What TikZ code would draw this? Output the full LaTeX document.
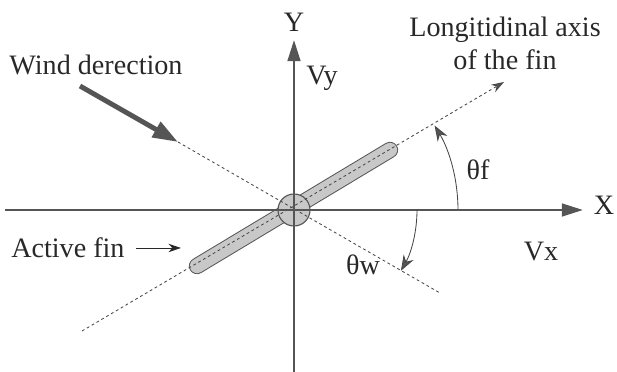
\documentclass[tikz,border=0pt]{standalone}
\usepackage{fontspec}
\setmainfont{Liberation Serif}
\usetikzlibrary{arrows.meta,calc}
\definecolor{axisgray}{RGB}{85,85,85}
\definecolor{textgray}{RGB}{40,40,40}
\definecolor{fingray}{RGB}{200,200,200}
\definecolor{linegray}{RGB}{70,70,70}
\tikzset{
  lbl/.style={inner sep=0pt, text=textgray, font=\fontsize{20}{23.5}\selectfont},
  axisline/.style={draw=axisgray, line width=1.8pt, -{Triangle[length=15pt,width=9pt]}},
  dotline/.style={draw=linegray, line width=0.6pt, dash pattern=on 2pt off 2pt},
  anglearc/.style={draw=linegray, line width=0.6pt, -{Stealth[length=11pt,width=8pt,fill=axisgray]}},
}
\begin{document}
\begin{tikzpicture}[x=0.025cm,y=0.025cm]
\useasboundingbox (0,0) rectangle (617,372);
% coordinates
\coordinate (O) at (294,162);
\coordinate (Xs) at (5,162);
\coordinate (Xe) at (583,162);
\coordinate (Ys) at (294,0);
\coordinate (Ye) at (294,332);
\coordinate (A) at (82,41);
\coordinate (B) at (504,290);
\coordinate (F1) at (197,106);
\coordinate (F2) at (390,222);
\coordinate (W1) at (178,230);
\coordinate (W2) at (440,79);
\coordinate (W0) at (80,286);
\coordinate (AF) at (181,124);
% fin
\draw[line width=11.6pt, color=axisgray, line cap=round] (F1) -- (F2);
\draw[line width=10.2pt, color=fingray, line cap=round] (F1) -- (F2);
% hub circle
\node[circle, draw=axisgray, fill=fingray, line width=0.8pt, minimum size=32*0.025cm, inner sep=0pt] (hub) at (O) {};
% dotted lines
\draw[dotline, -{Stealth[length=9pt,width=6pt,fill=axisgray]}] (A) -- (B);
\draw[dotline] (W1) -- (W2);
% axes
\draw[axisline] (Xs) -- (Xe);
\draw[axisline] (Ys) -- (Ye);
% wind arrow
\draw[draw=axisgray, line width=3.5pt, -{Triangle[length=18pt,width=12pt]}] (W0) -- (W1);
% angle arcs
\draw[anglearc] ($(O)+(164,0)$) arc[start angle=0, end angle=31, radius=164];
\draw[anglearc] ($(O)+(123,0)$) arc[start angle=0, end angle=-29.6, radius=123];
% labels
\node[lbl] (xlab) at (604,167) {X};
\node[lbl] (ylab) at (294,350) {Y};
\node[lbl] (vy) at (322,294) {Vy};
\node[lbl] (vx) at (541,120) {Vx};
\node[lbl] (thf) at (478,202) {θf};
\node[lbl] (thw) at (363,107) {θw};
\node[lbl] (wind) at (96,307) {Wind derection};
\node[lbl, align=center] (longax) at (505,329) {Longitidinal axis\\of the fin};
\node[lbl, anchor=west] (active) at (11,124) {Active fin};
\draw[draw=textgray, line width=0.6pt, -{Stealth[length=9pt,width=6pt]}] ([xshift=8pt]active.east) -- (AF);
\end{tikzpicture}
\end{document}
